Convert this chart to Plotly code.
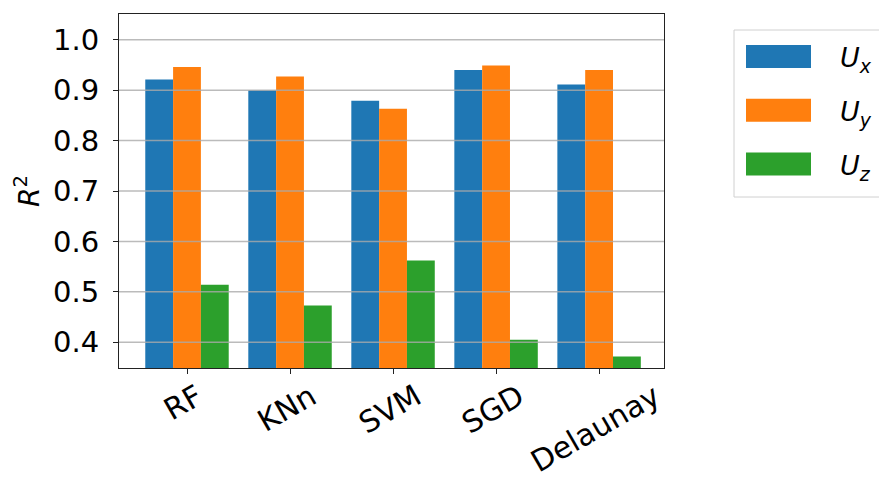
import plotly.graph_objects as go

# Regression scores (R^2) per model and velocity component
models = ["RF", "KNn", "SVM", "SGD", "Delaunay"]
r2_ux = [0.921, 0.900, 0.879, 0.940, 0.911]
r2_uy = [0.946, 0.927, 0.863, 0.949, 0.940]
r2_uz = [0.514, 0.473, 0.562, 0.405, 0.372]

series_names = ["x", "y", "z"]
series_values = [r2_ux, r2_uy, r2_uz]
series_colors = ["#1f77b4", "#ff7f0e", "#2ca02c"]

y_ticks = [0.4, 0.5, 0.6, 0.7, 0.8, 0.9, 1.0]

FONT = "DejaVu Sans"
FS = 28
W, H = 879, 478
ML, MR, MT, MB = 119, 215, 14, 110
PW, PH = W - ML - MR, H - MT - MB

fig = go.Figure()
for name, vals, col in zip(series_names, series_values, series_colors):
    fig.add_trace(go.Bar(
        x=models, y=vals, name=name,
        marker=dict(color=col, line=dict(width=0)),
        showlegend=False,
    ))

shapes = []
# horizontal grid drawn over the bars
for t in y_ticks:
    shapes.append(dict(type="line", xref="paper", yref="y", x0=0, x1=1, y0=t, y1=t,
                       line=dict(color="rgba(170,170,170,0.8)", width=1.5), layer="above"))

annotations = []
# rotated category labels centred under each tick
for m in models:
    annotations.append(dict(text=m, xref="x", yref="paper", x=m, y=-(375 - (H - MB)) / PH,
                            xanchor="center", yanchor="top", textangle=-30, showarrow=False,
                            xshift=-4, font=dict(family=FONT, size=30, color="#000")))

# y-axis title
annotations.append(dict(text="<i>R</i><sup>2</sup>", xref="paper", yref="paper",
                        x=(27 - ML) / PW, y=0.5, xanchor="center", yanchor="middle",
                        textangle=-90, showarrow=False,
                        font=dict(family=FONT, size=FS, color="#000")))

# legend box with large colour swatches
def px_x(p):
    return (p - ML) / PW

def px_y(p):
    return (H - MB - p) / PH

shapes.append(dict(type="rect", xref="paper", yref="paper",
                   x0=px_x(734), x1=px_x(900), y0=px_y(197), y1=px_y(30),
                   line=dict(color="#d0d0d0", width=1), fillcolor="rgba(255,255,255,0.8)",
                   layer="above"))
row0, row_step, sw_h = 56.5, 53.8, 23
for i, (name, col) in enumerate(zip(series_names, series_colors)):
    cy = row0 + i * row_step
    shapes.append(dict(type="rect", xref="paper", yref="paper",
                       x0=px_x(746), x1=px_x(811), y0=px_y(cy + sw_h / 2), y1=px_y(cy - sw_h / 2),
                       line=dict(width=0), fillcolor=col, layer="above"))
    annotations.append(dict(text=f"<i>U<sub>{name}</sub></i>", xref="paper", yref="paper",
                            x=px_x(838), y=px_y(cy), xanchor="left", yanchor="middle",
                            showarrow=False, yshift=-3,
                            font=dict(family=FONT, size=FS - 1, color="#000")))

fig.update_layout(
    width=W, height=H, autosize=False,
    margin=dict(l=ML, r=MR, t=MT, b=MB, pad=0),
    paper_bgcolor="white", plot_bgcolor="white",
    barmode="group", bargap=0.19, bargroupgap=0,
    font=dict(family=FONT, size=FS, color="#000"),
    shapes=shapes, annotations=annotations,
    xaxis=dict(range=[-0.66, 4.63], showgrid=False, showline=True, mirror=True,
               linecolor="#222", linewidth=1.2, ticks="outside", ticklen=5, tickwidth=1,
               tickcolor="#222", showticklabels=False, zeroline=False),
    yaxis=dict(range=[0.349, 1.051], tickvals=y_ticks, tickformat=".1f", showgrid=False,
               showline=True, mirror=True, linecolor="#222", linewidth=1.2,
               ticks="outside", ticklen=5, tickwidth=1, tickcolor="#222",
               ticklabelstandoff=8, zeroline=False,
               tickfont=dict(family=FONT, size=29, color="#000")),
)

fig.write_html("out.html")
